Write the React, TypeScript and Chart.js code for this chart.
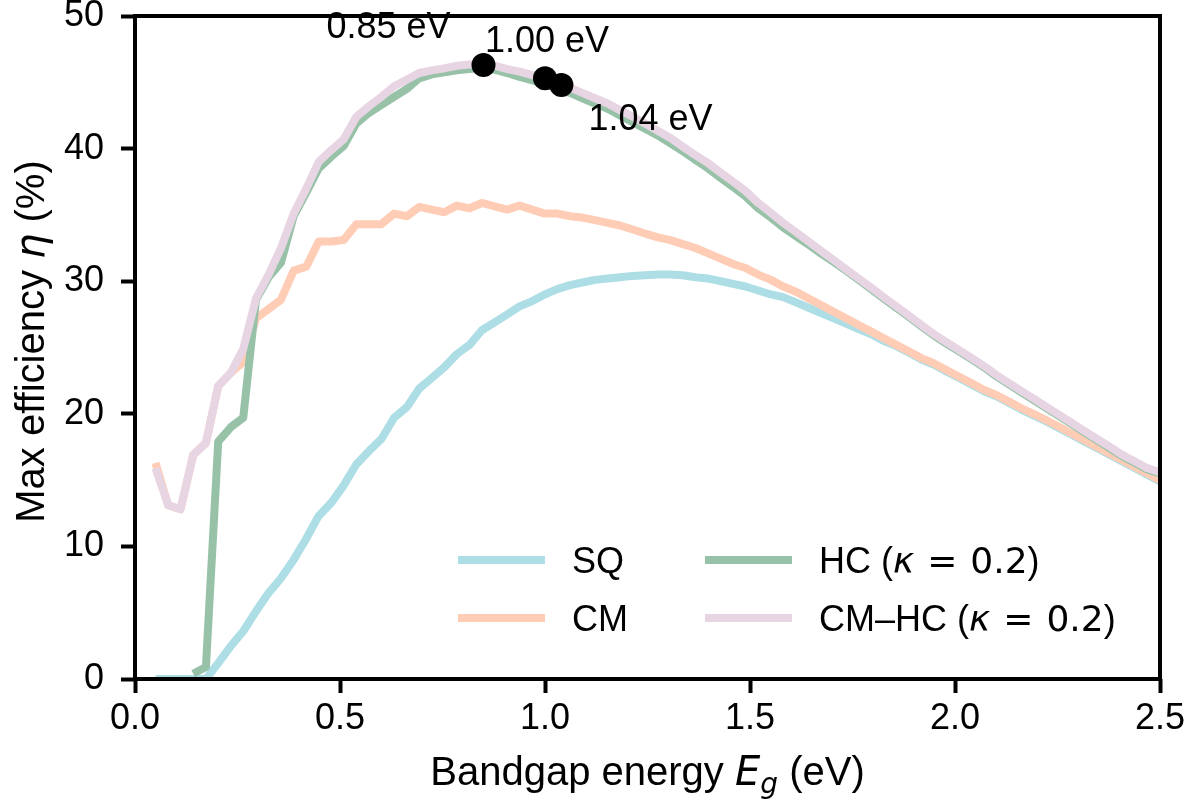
import React, { useEffect, useRef } from "react";
import { Chart, registerables } from "chart.js";

Chart.register(...registerables);

// Bandgap energy grid (eV)
const EG = [
  0.050, 0.081, 0.111, 0.142, 0.173, 0.203, 0.234, 0.264, 0.295, 0.326,
  0.356, 0.387, 0.418, 0.448, 0.479, 0.509, 0.540, 0.571, 0.601, 0.632,
  0.663, 0.693, 0.724, 0.754, 0.785, 0.816, 0.846, 0.877, 0.908, 0.938,
  0.969, 0.999, 1.030, 1.061, 1.091, 1.122, 1.153, 1.183, 1.214, 1.244,
  1.275, 1.306, 1.336, 1.367, 1.398, 1.428, 1.459, 1.489, 1.520, 1.551,
  1.581, 1.612, 1.643, 1.673, 1.704, 1.734, 1.765, 1.796, 1.826, 1.857,
  1.888, 1.918, 1.949, 1.979, 2.010, 2.041, 2.071, 2.102, 2.133, 2.163,
  2.194, 2.224, 2.255, 2.286, 2.316, 2.347, 2.378, 2.408, 2.439, 2.469,
  2.500,
];

const SQ = [
  0, 0, 0, 0, 0, 1.2, 2.5, 3.6, 5.1, 6.5,
  7.6, 9.0, 10.6, 12.3, 13.3, 14.6, 16.2, 17.2, 18.1, 19.7,
  20.5, 21.9, 22.7, 23.5, 24.5, 25.2, 26.3, 26.9, 27.5, 28.1,
  28.5, 29.0, 29.4, 29.7, 29.9, 30.1, 30.2, 30.3, 30.4, 30.45,
  30.5, 30.5, 30.45, 30.3, 30.2, 30.0, 29.8, 29.6, 29.3, 29.0,
  28.8, 28.4, 28.0, 27.6, 27.2, 26.8, 26.4, 26.0, 25.5, 25.1,
  24.6, 24.1, 23.7, 23.2, 22.7, 22.2, 21.7, 21.3, 20.8, 20.3,
  19.85, 19.4, 18.9, 18.4, 17.9, 17.4, 16.9, 16.4, 15.9, 15.4,
  14.9,
];

const CM = [
  16.3, 13.1, 12.8, 16.9, 17.8, 22.1, 23.1, 23.9, 27.2, 27.9,
  28.6, 30.8, 31.1, 33.0, 33.0, 33.1, 34.3, 34.3, 34.3, 35.1,
  34.9, 35.6, 35.4, 35.2, 35.7, 35.5, 35.9, 35.65, 35.4, 35.7,
  35.4, 35.1, 35.1, 34.9, 34.8, 34.6, 34.4, 34.2, 33.9, 33.6,
  33.3, 33.1, 32.8, 32.5, 32.1, 31.7, 31.3, 31.0, 30.5, 30.1,
  29.6, 29.2, 28.7, 28.2, 27.7, 27.2, 26.7, 26.2, 25.7, 25.2,
  24.7, 24.2, 23.8, 23.3, 22.8, 22.3, 21.8, 21.4, 20.9, 20.4,
  19.95, 19.5, 19.0, 18.5, 18.0, 17.5, 17.0, 16.5, 16.0, 15.5,
  15.0,
];

const HC = [
  null, null, null, 0.4, 0.9, 17.9, 19.0, 19.7, 28.6, 30.3,
  31.4, 34.9, 36.7, 38.5, 39.4, 40.2, 41.9, 42.7, 43.3, 43.9,
  44.5, 45.3, 45.6, 45.75, 45.9, 46.0, 46.1, 45.95, 45.7, 45.4,
  45.15, 44.9, 44.55, 44.2, 43.8, 43.4, 43.0, 42.5, 42.0, 41.5,
  41.0, 40.4, 39.8, 39.15, 38.5, 37.8, 37.1, 36.4, 35.5, 34.8,
  34.05, 33.4, 32.75, 32.1, 31.45, 30.8, 30.1, 29.4, 28.7, 28.0,
  27.3, 26.6, 25.9, 25.3, 24.7, 24.1, 23.5, 22.8, 22.2, 21.6,
  21.0, 20.4, 19.8, 19.2, 18.6, 18.0, 17.4, 16.8, 16.3, 15.8,
  15.5,
];

const CMHC = [
  15.9, 13.1, 12.8, 16.9, 17.8, 22.1, 23.1, 24.9, 28.7, 30.5,
  32.5, 35.1, 37.0, 39.0, 39.9, 40.7, 42.4, 43.2, 43.9, 44.7,
  45.2, 45.7, 45.9, 46.05, 46.25, 46.35, 46.4, 46.25, 46.0, 45.8,
  45.55, 45.3, 44.95, 44.6, 44.2, 43.8, 43.4, 42.9, 42.4, 41.9,
  41.35, 40.8, 40.15, 39.5, 38.9, 38.2, 37.5, 36.8, 35.9, 35.15,
  34.4, 33.7, 33.0, 32.3, 31.6, 30.9, 30.2, 29.5, 28.8, 28.1,
  27.4, 26.7, 26.0, 25.4, 24.8, 24.2, 23.6, 22.9, 22.3, 21.7,
  21.1, 20.5, 19.9, 19.3, 18.7, 18.1, 17.5, 16.9, 16.4, 15.9,
  15.6,
];

// Highlighted optimum bandgaps
const MARK_EG = [0.85, 1.0, 1.04];
const MARK_ETA = [46.3, 45.3, 44.8];
const MARK_TEXT = ["0.85 eV", "1.00 eV", "1.04 eV"];

const X_TICKS = [0, 0.5, 1.0, 1.5, 2.0, 2.5];
const Y_TICKS = [0, 10, 20, 30, 40, 50];

const SERIES_LABELS = ["SQ", "CM", "HC", "CM–HC"];

// ---- styling (not data) ----
const COLORS = ["#ADDDE5", "#FFCCB5", "#97C2A8", "#E8D5E3"];
const SANS = "'Liberation Sans', Arial, sans-serif";
const MATH = "'DejaVu Sans', sans-serif";
const FS = 36;
const TFS = 40;
const NORMAL = `${FS}px ${SANS}`;
const MARK_LABEL_STYLE = [
  { dx: -33, dy: -27, align: "right" },
  { dx: -60, dy: -26, align: "left" },
  { dx: 27, dy: 45, align: "left" },
];

type Run = { text?: string; font?: string; gap?: number; dy?: number };

function runsWidth(ctx: CanvasRenderingContext2D, runs: Run[], base: string) {
  let w = 0;
  for (const r of runs) {
    if (r.gap) { w += r.gap; continue; }
    ctx.font = r.font || base;
    w += ctx.measureText(r.text || "").width;
  }
  return w;
}

function drawRuns(ctx: CanvasRenderingContext2D, runs: Run[], x: number, y: number, base: string) {
  let cx = x;
  for (const r of runs) {
    if (r.gap) { cx += r.gap; continue; }
    ctx.font = r.font || base;
    ctx.fillText(r.text || "", cx, y + (r.dy || 0));
    cx += ctx.measureText(r.text || "").width;
  }
}

const kappaRuns = (prefix: string): Run[] => [
  { text: prefix + " (" },
  { text: "κ", font: `italic ${FS}px ${MATH}` },
  { gap: 13 },
  { text: "=", font: `${FS}px ${MATH}` },
  { gap: 13 },
  { text: "0.2", font: `${FS}px ${MATH}` },
  { text: ")" },
];

const LEGEND_RUNS: Run[][] = [
  [{ text: SERIES_LABELS[0] }],
  [{ text: SERIES_LABELS[1] }],
  kappaRuns(SERIES_LABELS[2]),
  kappaRuns(SERIES_LABELS[3]),
];

const framePlugin = {
  id: "frame",
  afterDatasetsDraw(chart: any) {
    const { ctx, chartArea: a } = chart;
    ctx.save();
    ctx.strokeStyle = "#000";
    ctx.lineWidth = 4;
    ctx.strokeRect(a.left, a.top, a.right - a.left, a.bottom - a.top);
    ctx.restore();
  },
};

const textPlugin = {
  id: "texts",
  afterDraw(chart: any) {
    const { ctx, chartArea: a } = chart;
    ctx.save();
    ctx.fillStyle = "#000";
    ctx.textBaseline = "alphabetic";

    // marker labels
    const meta = chart.getDatasetMeta(4);
    meta.data.forEach((el: any, i: number) => {
      const s = MARK_LABEL_STYLE[i];
      ctx.font = NORMAL;
      ctx.textAlign = s.align;
      ctx.fillText(MARK_TEXT[i], el.x + s.dx, el.y + s.dy);
    });
    ctx.textAlign = "left";

    // legend (2 columns, column-major)
    const colX = [458, 705];
    const rowY = [560, 618];
    const lineLen = 87;
    for (let i = 0; i < 4; i++) {
      const c = Math.floor(i / 2);
      const r = i % 2;
      const x0 = colX[c];
      const y0 = rowY[r];
      ctx.strokeStyle = COLORS[i];
      ctx.lineWidth = 8;
      ctx.lineCap = "butt";
      ctx.beginPath();
      ctx.moveTo(x0, y0);
      ctx.lineTo(x0 + lineLen, y0);
      ctx.stroke();
      drawRuns(ctx, LEGEND_RUNS[i], x0 + lineLen + 27, y0 + 13, NORMAL);
    }

    // x axis title
    const TNORMAL = `${TFS}px ${SANS}`;
    const xRuns: Run[] = [
      { text: "Bandgap energy " },
      { text: "E", font: `italic ${TFS}px ${MATH}` },
      { text: "g", font: `italic ${Math.round(TFS * 0.7)}px ${MATH}`, dy: 8 },
      { text: " (eV)" },
    ];
    const xw = runsWidth(ctx, xRuns, TNORMAL);
    drawRuns(ctx, xRuns, (a.left + a.right) / 2 - xw / 2, 785, TNORMAL);

    // y axis title
    const yRuns: Run[] = [
      { text: "Max efficiency " },
      { text: "η", font: `italic ${TFS}px ${MATH}` },
      { text: " (%)" },
    ];
    const yw = runsWidth(ctx, yRuns, TNORMAL);
    ctx.translate(44, (a.top + a.bottom) / 2 - 6);
    ctx.rotate(-Math.PI / 2);
    drawRuns(ctx, yRuns, -yw / 2, 0, TNORMAL);
    ctx.restore();
  },
};

export default function App() {
  const ref = useRef<HTMLCanvasElement | null>(null);

  useEffect(() => {
    if (!ref.current) return;
    const series = [SQ, CM, HC, CMHC];
    const datasets: any[] = series.map((vals, i) => ({
      type: "line",
      label: SERIES_LABELS[i],
      data: EG.map((x, k) => ({ x, y: vals[k] })).filter((p) => p.y !== null),
      borderColor: COLORS[i],
      backgroundColor: COLORS[i],
      borderWidth: 8,
      pointRadius: 0,
      tension: 0,
      fill: false,
      borderJoinStyle: "round",
      borderCapStyle: "butt",
      clip: 0,
      order: 4 - i,
    }));
    datasets.push({
      type: "scatter",
      label: "optima",
      data: MARK_EG.map((x, i) => ({ x, y: MARK_ETA[i] })),
      pointRadius: 12,
      pointBackgroundColor: "#000",
      pointBorderWidth: 0,
      showLine: false,
      order: 0,
    });

    const tickFont = { family: SANS, size: FS };
    const chart = new Chart(ref.current, {
      type: "line",
      data: { datasets },
      options: {
        animation: false,
        responsive: false,
        maintainAspectRatio: false,
        devicePixelRatio: 1,
        layout: { padding: { top: 16, right: 37, left: 0, bottom: 0 } },
        plugins: { legend: { display: false }, tooltip: { enabled: false } },
        scales: {
          x: {
            type: "linear",
            min: 0,
            max: 2.5,
            afterBuildTicks: (s: any) => { s.ticks = X_TICKS.map((v) => ({ value: v })); },
            ticks: {
              callback: (v: any) => Number(v).toFixed(1),
              font: tickFont,
              color: "#000",
              padding: 4,
              maxRotation: 0,
              autoSkip: false,
            },
            grid: { drawOnChartArea: false, drawTicks: true, tickLength: 14, tickWidth: 4, tickColor: "#000" },
            border: { display: false },
            afterFit: (s: any) => { s.height = 122; s.paddingLeft = 0; s.paddingRight = 0; },
          },
          y: {
            type: "linear",
            min: 0,
            max: 50,
            afterBuildTicks: (s: any) => { s.ticks = Y_TICKS.map((v) => ({ value: v })); },
            ticks: {
              callback: (v: any) => String(v),
              font: tickFont,
              color: "#000",
              padding: 17,
              autoSkip: false,
            },
            grid: { drawOnChartArea: false, drawTicks: true, tickLength: 14, tickWidth: 4, tickColor: "#000" },
            border: { display: false },
            afterFit: (s: any) => { s.width = 135; s.paddingTop = 0; s.paddingBottom = 0; },
          },
        },
      } as any,
      plugins: [framePlugin, textPlugin],
    });
    return () => chart.destroy();
  }, []);

  return (
    <div style={{ position: "fixed", left: 0, top: 0, width: 1197, height: 801, background: "#fff" }}>
      <canvas ref={ref} width={1197} height={801} style={{ display: "block" }} />
    </div>
  );
}
